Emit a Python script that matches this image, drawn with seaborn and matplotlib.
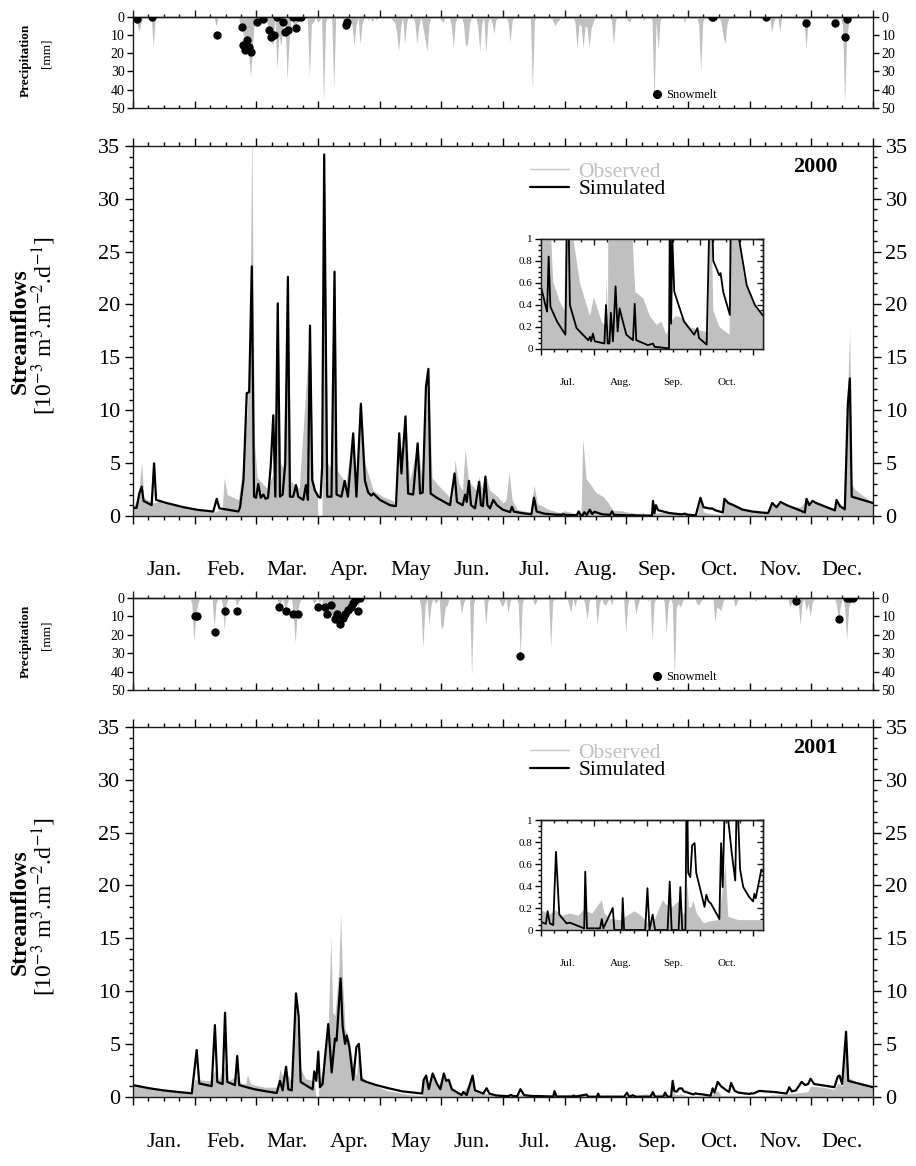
import numpy as np
import matplotlib
matplotlib.use("Agg")
import matplotlib.pyplot as plt
import seaborn as sns
from matplotlib.ticker import FixedLocator, NullFormatter, FuncFormatter, MultipleLocator
from matplotlib.lines import Line2D
import matplotlib.transforms as mtransforms

sns.set_theme(style="ticks")
plt.rcParams["font.family"] = ["Liberation Serif", "DejaVu Serif"]
plt.rcParams["mathtext.fontset"] = "stix"
for key in ["text.color", "axes.labelcolor", "xtick.color", "ytick.color", "axes.edgecolor"]:
    plt.rcParams[key] = "black"

# ---------------- data ----------------
MONTHS = ["Jan.", "Feb.", "Mar.", "Apr.", "May", "Jun.", "Jul.", "Aug.", "Sep.", "Oct.", "Nov.", "Dec."]
INSET_MONTHS = ["Jul.", "Aug.", "Sep.", "Oct."]
YEARS = ["2000", "2001"]
SERIES_NAMES = ["Observed", "Simulated"]

SIM2000_DAY = [0, 1.8, 3.1, 4.3, 5.2, 9.2, 10.4, 11.4, 16.6, 25, 32, 39.6, 41.3, 42.6, 52, 52.8, 54.5, 56.1, 57.3, 58.6,
               59.7, 60.7, 61.8, 63, 64.3, 65.4, 66.6, 67.9, 69.2, 70.2, 71.4, 72.5, 73.8, 75.1, 76.4, 77.4, 79, 80.4,
               81.5, 84, 85.3, 86.3, 87.3, 88.4, 89.7, 91.4, 92.5, 93.3, 94.3, 95.8, 97.9, 99.4, 100.4, 102.8, 104.4,
               106, 108.6, 110.2, 112.4, 114.4, 116, 117.5, 118.5, 121.8, 126.7, 129.7, 131.3, 132.4, 134.4, 135.7,
               138.2, 140.4, 141.6, 142.9, 144.5, 145.7, 146.8, 149.8, 156.4, 158.6, 159.8, 162.6, 163.8, 164.6, 165.7,
               166.7, 168.7, 170.7, 171.6, 172.6, 173.8, 174.8, 176.1, 177.7, 179.5, 182.3, 185, 186, 186.9, 187.9,
               191.7, 196.5, 197.8, 199.1, 202.9, 209.6, 210.6, 211.3, 212.3, 213.4, 218.9, 219.8, 220.8, 221.8, 222.6,
               223.8, 225.3, 226.5, 227.6, 229, 231.5, 235.3, 236.3, 237.2, 243.9, 246.8, 247.7, 253.6, 256, 256.5,
               257.2, 257.9, 259, 264.6, 270.4, 272.3, 273.2, 277.6, 279.9, 281.4, 283.3, 284.8, 285.6, 287.1, 290.9,
               291.7, 293.6, 296.2, 300.6, 305.3, 309.6, 313.3, 315.3, 317.4, 319.4, 322.4, 329, 331.4, 332.2, 333.5,
               335.2, 337, 346.2, 347, 348.7, 351.1, 352.6, 353.6, 354.5, 365]
SIM2000_Q = [0.75, 0.75, 2.1, 2.75, 1.4, 1.0, 4.96, 1.5, 1.2, 0.8, 0.55, 0.4, 1.6, 0.7, 0.4, 0.8, 3.4, 11.6, 11.7, 23.6,
             1.8, 1.7, 3.0, 1.7, 2.0, 1.6, 1.7, 4.6, 9.5, 1.8, 20.1, 1.8, 2.0, 5.0, 22.6, 1.8, 1.8, 2.9,
             1.8, 1.5, 2.9, 1.5, 18.0, 3.4, 2.4, 1.8, 1.7, 4.6, 34.2, 1.8, 1.8, 23.1, 2.0, 1.8, 3.3,
             1.8, 7.8, 1.8, 10.6, 3.3, 2.2, 1.9, 2.1, 1.5, 1.0, 0.9, 7.8, 4.0, 9.4, 2.1,
             2.0, 6.85, 2.1, 2.2, 12.2, 13.9, 2.1, 1.7, 1.0, 4.0, 1.3, 1.0, 2.0, 1.3, 3.3,
             1.0, 0.7, 3.2, 1.0, 0.9, 3.7, 1.0, 0.7, 1.5, 1.0, 0.58, 0.4, 0.34, 0.84, 0.385,
             0.25, 0.13, 1.7, 0.4, 0.19, 0.08, 0.11, 0.07, 0.14, 0.07, 0.05, 0.4, 0.05, 0.05, 0.33,
             0.07, 0.57, 0.16, 0.37, 0.28, 0.13, 0.08, 0.41, 0.08, 0.035, 0.05, 0.02, 0.01, 0.006, 1.4,
             0.23, 1.0, 0.52, 0.25, 0.13, 0.19, 0.1, 0.04, 1.7, 0.8, 0.73, 0.67, 0.69, 0.52, 0.31,
             1.6, 1.2, 1.0, 0.58, 0.4, 0.31, 0.25, 1.2, 0.8, 1.3, 1.0, 0.5, 0.3, 1.6, 1.0,
             1.4, 1.2, 0.5, 1.5, 0.9, 0.6, 10.6, 13.0, 1.8, 1.2]

OBS2000_DAY = [0, 2.5, 4.3, 5.3, 10, 13, 17, 25, 33, 40, 44, 45, 46.5, 52, 54.5, 56.5, 57.8, 58.6, 59.3, 60, 61.3, 66,
               69, 70.2, 71.4, 72.8, 74, 76.4, 77.8, 82, 87.3, 88.8, 90.9, 91.2, 93.2, 93.5, 94.3, 96, 97.5, 99.4,
               100.8, 105, 108.6, 110.2, 112.4, 114.4, 118.5, 123.4, 128.4, 130, 131.3, 133, 134.4, 136.5, 140.4,
               142.5, 145.7, 147.5, 150, 155, 157.5, 158.8, 160.5, 162.5, 163.8, 165.5, 169.5, 170.7, 172, 173.8, 176,
               180, 182.5, 184, 185.5, 187, 189.5, 193.3, 196, 197.8, 199.5, 201.1, 204.9, 208.7, 210.6, 212.9, 217.3,
               219.6, 220.2, 221, 221.8, 223.5, 225.8, 228.3, 232, 234.5, 236.6, 241.2, 245, 248.8, 251.6, 254.5,
               255.5, 257, 260, 264.2, 268, 273.8, 278.5, 279.9, 281.4, 285, 289, 290.7, 291.7, 293, 295, 298.6, 300.6,
               305.3, 309.6, 313, 315.3, 319.4, 322.4, 329, 332, 335, 346, 347, 351, 352.5, 353.5, 354.5, 356, 365]
OBS2000_Q = [0.8, 1.7, 5.1, 1.7, 1.2, 1.4, 1.2, 0.8, 0.6, 0.35, 0.6, 3.6, 2.0, 1.5, 5.0, 10.3, 20, 37, 20, 6.6, 3.6, 2.6,
             3.9, 9.0, 20.1, 5.0, 4.5, 22.6, 3.3, 2.6, 18.0, 3.3, 1.8, 0, 0, 5.0, 34.2, 5.0, 4.5, 23.1,
             4.3, 3.1, 7.8, 3.1, 10.6, 5.0, 2.4, 1.8, 1.4, 0.7, 7.8, 5.0, 9.4, 3.3, 6.85,
             3.6, 13.9, 3.6, 3.0, 2.0, 1.5, 5.3, 3.1, 2.4, 6.3, 3.3, 2.4, 3.7, 2.6, 4.0, 2.4,
             1.8, 1.2, 1.5, 4.2, 1.5, 0.61, 0.43, 0.35, 2.9, 1.1, 1.0, 0.6, 0.4, 0.3, 0.47, 0.25,
             0.2, 0.65, 0.2, 7.3, 3.5, 2.9, 2.2, 1.8, 1.2, 0.52, 0.46, 0.3, 0.22, 0.25, 0.13,
             0.17, 0.25, 0.3, 0.28, 0.2, 0.17, 0.15, 1.7, 0.35, 0.2, 0.15, 0.13, 1.5, 1.5, 1.2, 0.7, 0.58,
             0.4, 0.3, 0.3, 1.0, 1.2, 1.0, 0.8, 1.4, 1.3, 0.7, 1.4, 0.8, 12, 17.6, 3.0, 2.5, 1.2]

P2000_DAY = [1, 2, 3, 4, 10, 41, 53, 54, 55, 56, 57, 58, 59, 61, 63, 66, 67, 68, 69, 71, 72, 73, 74, 76, 77, 79, 80, 81,
             83, 87, 88, 89, 91, 92, 94, 95, 99, 104, 105, 106, 108, 109, 110, 112, 113, 116, 118, 120, 128, 129, 130,
             131, 132, 134, 135, 139, 140, 141, 143, 144, 145, 146, 152, 153, 157, 158, 159, 163, 164, 165, 166, 170,
             171, 172, 174, 175, 177, 178, 179, 185, 186, 187, 190, 192, 197, 198, 207, 208, 209, 210, 215, 218, 219,
             220, 221, 222, 223, 224, 225, 226, 227, 236, 237, 238, 244, 245, 250, 252, 256, 257, 258, 259, 260, 270,
             272, 279, 280, 281, 290, 291, 292, 293, 315, 316, 319, 331, 332, 333, 346, 347, 350, 351, 352, 353]
P2000_MM = [2, 4, 8, 3, 17, 5, 5, 8, 12, 18, 20, 33, 15, 3, 2, 3, 6, 14, 15, 29, 10, 16, 5, 35, 12, 4, 6, 3,
            2, 33, 4, 3, 3, 2, 47, 3, 39, 3, 5, 4, 4, 16, 5, 15, 4, 2, 3, 2, 2, 3, 8,
            19, 6, 15, 3, 3, 15, 5, 6, 12, 19, 4, 2, 3, 5, 17, 3, 4, 16, 15, 4, 5,
            19, 4, 20, 3, 3, 9, 2, 3, 14, 2, 1, 1, 40, 2, 2, 5, 3, 2, 1, 3, 17,
            4, 5, 17, 5, 6, 17, 6, 3, 2, 15, 2, 2, 3, 1, 2, 2, 46, 2, 18, 2, 1,
            3, 4, 30, 3, 3, 10, 15, 4, 8, 3, 8, 3, 17, 2, 7, 3, 5, 47, 12, 3]

SNOW2000_DAY = [2.1, 9.2, 41.3, 53.6, 54.4, 55.2, 55.8, 56.4, 57.3, 58.3, 61.2, 64.1, 67.2, 68.3, 69.5, 71, 74.2, 75.2,
                76.4, 79, 80.3, 81.5, 82.8, 105.3, 105.6, 285.4, 286.2, 312.2, 331.8, 346.4, 351.4, 352.2]
SNOW2000_MM = [1.3, 0.4, 10, 5.5, 15.5, 18.2, 15.5, 12.8, 16.4, 19.1, 2.7, 1.5, 7.3, 11.3, 10, 0.2, 2.7, 8.2,
               7.3, 0.4, 6, 0.4, 0, 4.6, 2.7, 0, 0, 0, 3.6, 3.6, 11.3, 1.3]

SIM2001_DAY = [0, 8, 15, 22, 29, 31.4, 32.7, 38.8, 40.4, 41.6, 44.2, 45.4, 46.5, 50.3, 51.4, 52.4, 56, 60, 66, 70.9,
               72.5, 73.8, 75.5, 76.6, 78.3, 80.4, 81.7, 82.7, 86, 88.6, 89.4, 90.4, 91.4, 92.2, 93.5, 94.7, 96.3, 98,
               99.6, 100.4, 102.4, 103.4, 104.6, 105.4, 106.7, 108.6, 110.2, 111.4, 112.7, 115.2, 120, 126, 133, 142.6,
               143.4, 144.6, 145.9, 147.8, 150, 151.6, 153.3, 154.5, 155.7, 157.3, 162.1, 162.9, 164.6, 167.5, 168.7,
               172.8, 174.4, 175.8, 179, 182.3, 185.3, 186.3, 187.6, 189.5, 191.1, 193, 197.2, 199, 207.3, 207.9, 208.9,
               216.4, 217.4, 218.3, 223.7, 224.6, 228.9, 229.4, 230.2, 242.3, 243.6, 244.8, 246.6, 248, 255.2, 256.4,
               257.5, 261.5, 262.5, 263.6, 265.4, 266.2, 267, 268.2, 269.3, 270.7, 271.6, 276.4, 277.4, 278.7, 280.1,
               284.9, 285.9, 286.8, 288.4, 290, 292, 294, 295, 296.8, 298.6, 302, 304.3, 305, 305.8, 309, 312, 316,
               322.4, 323.7, 325, 327, 329.8, 331.5, 333, 334.2, 336, 346, 347.6, 348.5, 349.8, 351.7, 352.8, 365]
SIM2001_Q = [1.1, 0.8, 0.6, 0.45, 0.32, 4.42, 1.25, 1.0, 6.78, 1.4, 1.2, 7.95, 1.4, 1.1, 3.85, 1.1, 0.9, 0.7, 0.5, 0.35,
             1.5, 0.6, 2.84, 0.7, 0.6, 9.78, 7.6, 1.4, 1.0, 0.7, 2.4, 1.5, 4.26, 0.9, 1.2, 3.7, 6.88, 2.3,
             5.5, 5.3, 11.2, 6.7, 5.0, 5.8, 4.7, 1.6, 4.7, 5.0, 1.6, 1.4, 1.1, 0.8, 0.5, 0.3,
             1.6, 2.0, 0.7, 2.2, 1.2, 0.7, 2.2, 1.5, 1.6, 0.7, 0.16, 0.45, 0.16, 2.0, 0.6,
             0.3, 0.8, 0.3, 0.12, 0.076, 0.055, 0.17, 0.06, 0.045, 0.71, 0.14, 0.06, 0.067, 0.015, 0.53, 0.015,
             0.015, 0.1, 0.015, 0.2, 0.0, 0.0, 0.29, 0.0, 0.0, 0.38, 0.0, 0.14, 0.0, 0.0, 0.44,
             0.0, 0.0, 0.39, 0.0, 0.0, 1.5, 0.52, 0.48, 0.77, 0.79, 0.52, 0.21, 0.32, 0.26, 0.24,
             0.1, 0.79, 0.39, 1.4, 1.0, 0.7, 0.45, 1.3, 0.55, 0.39, 0.3, 0.26, 0.33, 0.29, 0.55, 0.5, 0.45,
             0.3, 0.9, 0.5, 0.6, 1.4, 1.1, 1.2, 1.7, 1.2, 0.9, 1.9, 2.0, 1.2, 6.15, 1.5, 0.9]

OBS2001_DAY = [0, 15, 29, 30.5, 33, 38, 40.4, 42, 45.4, 47, 51.4, 53, 55.5, 56.5, 58, 65, 70.9, 72.5, 73.8, 75.5, 78,
               80.4, 82, 85, 89.5, 90.2, 91.4, 91.8, 93.5, 95, 96.3, 97.6, 98.5, 99.6, 101.5, 102.4, 103.4, 104.6,
               105.4, 106.7, 108.6, 110.2, 111.4, 112.7, 115.2, 125, 135, 142.6, 143.4, 144.6, 145.9, 147.8, 150,
               153.3, 155.7, 158, 162, 167.5, 169, 175, 180, 182.5, 187.6, 191, 194.5, 199, 204, 207, 212, 217.4,
               219, 222, 228, 232, 236.3, 240, 244, 248, 252.4, 254.3, 258, 262.1, 264, 265.5, 266.6, 267.5, 269,
               270, 271.9, 276, 280, 284, 286, 288.4, 290, 296, 302, 310, 320, 329.8, 333, 334.2, 340, 346, 347.6,
               350, 351.7, 352.8, 358, 365]
OBS2001_Q = [1.1, 0.7, 0.45, 1.6, 1.6, 1.5, 2.5, 1.5, 3.0, 1.5, 2.0, 1.3, 1.2, 2.1, 1.2, 0.9, 0.9, 2.6, 2.0, 2.5, 1.4,
             8.5, 3.0, 1.7, 1.5, 0, 0, 1.5, 2.5, 4.0, 6.8, 15.3, 8.0, 7.7, 12.0, 17.3, 11.0, 6.4,
             6.0, 5.4, 3.0, 2.0, 4.7, 2.0, 1.4, 0.6, 0.25, 0.1, 1.9, 1.5, 0.5, 2.0, 0.9,
             2.0, 1.4, 0.5, 0.2, 1.8, 0.4, 0.3, 0.2, 0.18, 0.14, 0.18, 0.13, 0.15, 0.13, 0.18, 0.15, 0.27,
             0.15, 0.1, 0.09, 0.13, 0.17, 0.13, 0.06, 0.1, 0.27, 0.23, 0.21, 0.27, 0.15, 0.15, 0.42, 0.2, 0.21,
             0.27, 0.15, 0.06, 0.08, 0.09, 0.27, 0.6, 0.12, 0.09, 0.09, 0.09, 0.2, 0.4, 0.5, 1.0, 0.9, 0.7, 1.3,
             1.0, 5.5, 1.8, 1.3, 0.9]

P2001_DAY = [29, 30, 31, 32, 40, 41, 44, 45, 46, 51, 52, 72, 73, 75, 76, 79, 80, 81, 82, 89, 90, 92, 94, 95, 96, 97, 98,
             99, 100, 101, 102, 103, 104, 105, 106, 107, 108, 109, 111, 112, 142, 143, 144, 146, 147, 149, 150, 152,
             153, 154, 155, 162, 163, 167, 168, 174, 175, 181, 182, 183, 185, 186, 190, 191, 192, 198, 199, 206, 207,
             215, 216, 218, 223, 224, 225, 229, 230, 232, 233, 234, 236, 243, 244, 248, 249, 252, 254, 256, 257, 262,
             263, 264, 266, 267, 268, 269, 270, 271, 278, 279, 280, 287, 288, 289, 290, 291, 297, 298, 305, 307, 309,
             324, 325, 329, 330, 332, 333, 334, 335, 347, 348, 349, 351, 352, 353, 354]
P2001_MM = [3, 24, 10, 3, 16, 3, 3, 17, 3, 4, 2, 4, 2, 7, 3, 8, 24, 9, 3, 3, 2, 3, 12, 8, 10, 6, 12,
            14, 10, 12, 15, 9, 8, 6, 5, 8, 4, 2, 5, 2, 5, 27, 5, 14, 4, 3, 2, 17,
            15, 5, 4, 9, 3, 42, 3, 15, 2, 2, 5, 3, 8, 2, 3, 31, 3, 4, 2, 27, 2,
            4, 8, 5, 4, 12, 2, 15, 3, 3, 4, 2, 4, 19, 3, 9, 4, 1, 2, 23, 3, 2,
            19, 3, 3, 43, 5, 3, 5, 2, 3, 4, 2, 13, 5, 6, 7, 2, 5, 2, 1, 2, 1,
            5, 2, 15, 3, 7, 3, 10, 3, 4, 12, 4, 5, 23, 5, 2]

SNOW2001_DAY = [30.6, 31.7, 40.4, 45.4, 51.4, 72.2, 75.5, 79.1, 81.5, 91.4, 94.7, 95.8, 97.9, 99.6, 100.5, 102.1, 103.7,
                104.5, 106.2, 107.5, 108.7, 109.5, 111.2, 112, 190.9, 326.9, 348, 352.1, 353.7, 354.9]
SNOW2001_MM = [9.9, 9.9, 18.4, 7.2, 7.2, 5.2, 7.2, 8.8, 8.8, 5.2, 5.2, 8.8, 3.7, 11.7, 8.8, 14.2, 11.1,
               8.6, 6.7, 5.2, 3.1, 1.2, 7.0, 0.3, 31.6, 1.6, 11.7, 0.3, 0.3, 0.3]

# ---------------- layout ----------------
W, H = 916, 1166
ML = 365 / 12.0
MONTH_EDGES = [i * ML for i in range(13)]
MONTH_MINOR = [i * ML / 4 for i in range(49)]
GRAY = "#c0c0c0"

fig = plt.figure(figsize=(W / 100, H / 100), dpi=100)


def frac(left, top, right, bottom):
    return [left / W, 1 - bottom / H, (right - left) / W, (bottom - top) / H]


def sec_x(ax, where, direction, major, minor, lmaj, lmin):
    sec = ax.secondary_xaxis(where)
    sec.xaxis.set_major_locator(FixedLocator(major))
    sec.xaxis.set_minor_locator(FixedLocator(minor))
    sec.xaxis.set_major_formatter(NullFormatter())
    sec.tick_params(axis="x", which="major", direction=direction, length=lmaj, width=1, color="k")
    sec.tick_params(axis="x", which="minor", direction=direction, length=lmin, width=1, color="k")
    for s in sec.spines.values():
        s.set_linewidth(1.0)
        s.set_color("k")
    return sec


def draw_precip(top, bottom, pday, pmm, sday, smm):
    ax = fig.add_axes(frac(133, top, 873, bottom))
    daily = np.zeros(366)
    daily[np.array(pday)] = pmm
    ax.fill_between(np.arange(366), 0, daily, color=GRAY, lw=0)
    sns.scatterplot(x=sday, y=smm, ax=ax, color="black", s=36, edgecolor="black", linewidth=0, zorder=5,
                    legend=False)
    ax.set_xlim(0, 365)
    ax.set_ylim(50, 0)
    ax.set_yticks([0, 10, 20, 30, 40, 50])
    ax.xaxis.set_major_locator(FixedLocator(MONTH_EDGES))
    ax.xaxis.set_minor_locator(FixedLocator(MONTH_MINOR))
    ax.xaxis.set_major_formatter(NullFormatter())
    ax.tick_params(axis="x", which="major", direction="in", length=5, width=1, top=False, bottom=True)
    ax.tick_params(axis="x", which="minor", direction="in", length=2.5, width=1, top=False, bottom=True)
    sec_x(ax, "top", "out", MONTH_EDGES, MONTH_MINOR, 5, 2.5)
    ax.tick_params(axis="y", which="major", direction="out", length=4, width=1, left=True, right=True,
                   labelleft=True, labelright=True, labelsize=10, pad=2)
    for s in ax.spines.values():
        s.set_linewidth(1.0)
        s.set_color("k")
    ax.set_xlabel("")
    ax.set_ylabel("")
    ax.legend(handles=[Line2D([], [], marker="o", ls="", color="black", markersize=5.5)], labels=["Snowmelt"],
              loc="center left", bbox_to_anchor=(0.699, 0.142), frameon=False, fontsize=9,
              handletextpad=0.25, handlelength=1.0, borderpad=0, borderaxespad=0)
    yc = (top + bottom) / 2
    fig.text(26 / W, 1 - (yc - 2) / H, "Precipitation", rotation=90, fontsize=9.5, fontweight="bold",
             ha="center", va="center")
    fig.text(46 / W, 1 - (yc - 9) / H, "[mm]", rotation=90, fontsize=9.5, ha="center", va="center")
    return ax


def draw_flow(top, bottom, oday, oq, sday, sq, year, mlab_off):
    ax = fig.add_axes(frac(133, top, 873, bottom))
    ax.fill_between(oday, 0, oq, color=GRAY, lw=0)
    sns.lineplot(x=sday, y=sq, ax=ax, color="black", lw=1.6, estimator=None, sort=False, legend=False)
    ax.set_xlim(0, 365)
    ax.set_ylim(0, 35)
    ax.yaxis.set_major_locator(MultipleLocator(5))
    ax.yaxis.set_minor_locator(MultipleLocator(1))
    ax.xaxis.set_major_locator(FixedLocator(MONTH_EDGES))
    ax.xaxis.set_minor_locator(FixedLocator(MONTH_MINOR))
    ax.xaxis.set_major_formatter(NullFormatter())
    ax.tick_params(which="major", direction="out", length=6, width=1, top=True, right=True,
                   labelright=True, labelsize=16, pad=3)
    ax.tick_params(which="minor", direction="out", length=3, width=1, top=True, right=True)
    for s in ax.spines.values():
        s.set_linewidth(1.0)
        s.set_color("k")
    ax.set_xlabel("")
    ax.set_ylabel("")
    trans = mtransforms.blended_transform_factory(ax.transData, ax.transAxes)
    h = bottom - top
    for i, m in enumerate(MONTHS):
        ax.text((i + 0.5) * ML, -mlab_off / h, m, transform=trans, ha="center", va="center", fontsize=16)
    handles = [Line2D([], [], color="#c8c8c8", lw=1.0), Line2D([], [], color="black", lw=1.6)]
    leg = ax.legend(handles, SERIES_NAMES, loc="upper left", bbox_to_anchor=(0.5365, 0.958), frameon=False,
                    fontsize=15.5, handlelength=1.8, handletextpad=0.45, labelspacing=-0.12, borderpad=0,
                    borderaxespad=0)
    leg.get_texts()[0].set_color("#c0c0c0")
    ax.text(0.9216, 1 - 21 / h, year, transform=ax.transAxes, ha="center", va="center", fontsize=16,
            fontweight="bold")
    yc = (top + bottom) / 2
    fig.text(20 / W, 1 - yc / H, "Streamflows", rotation=90, fontsize=17, fontweight="bold",
             ha="center", va="center")
    fig.text(44 / W, 1 - (yc - 5) / H, r"[10$^{-3}$ m$^{3}$.m$^{-2}$.d$^{-1}$]", rotation=90, fontsize=17,
             ha="center", va="center")
    return ax


def draw_inset(top, bottom, oday, oq, sday, sq):
    ax = fig.add_axes(frac(541, top, 763, bottom))
    ax.set_zorder(10)
    ax.set_facecolor("white")
    ax.fill_between(oday, 0, oq, color=GRAY, lw=0)
    sns.lineplot(x=sday, y=sq, ax=ax, color="black", lw=1.3, estimator=None, sort=False, legend=False)
    x0 = 6 * ML
    ax.set_xlim(x0, x0 + 4.19 * ML)
    ax.set_ylim(0, 1)
    edges = [x0 + i * ML for i in range(5)]
    minors = [x0 + i * ML / 4 for i in range(18)]
    ax.xaxis.set_major_locator(FixedLocator(edges))
    ax.xaxis.set_minor_locator(FixedLocator(minors))
    ax.xaxis.set_major_formatter(NullFormatter())
    ax.yaxis.set_major_locator(MultipleLocator(0.2))
    ax.yaxis.set_minor_locator(MultipleLocator(0.05))
    ax.yaxis.set_major_formatter(FuncFormatter(lambda v, p: f"{v:g}"))
    ax.tick_params(which="major", direction="out", length=4, width=1, top=False, right=False, labelsize=8, pad=2)
    ax.tick_params(which="minor", direction="out", length=2, width=1, top=False, right=False)
    sec_x(ax, "top", "in", edges, minors, 4, 2)
    sr = ax.secondary_yaxis("right")
    sr.yaxis.set_major_locator(MultipleLocator(0.2))
    sr.yaxis.set_minor_locator(MultipleLocator(0.05))
    sr.yaxis.set_major_formatter(NullFormatter())
    sr.tick_params(axis="y", which="major", direction="in", length=4, width=1, color="k")
    sr.tick_params(axis="y", which="minor", direction="in", length=2, width=1, color="k")
    for s in list(ax.spines.values()) + list(sr.spines.values()):
        s.set_linewidth(1.0)
        s.set_color("k")
    ax.set_xlabel("")
    ax.set_ylabel("")
    trans = mtransforms.blended_transform_factory(ax.transData, ax.transAxes)
    for i, m in enumerate(INSET_MONTHS):
        ax.text(x0 + (i + 0.5) * ML, -34 / (bottom - top), m, transform=trans, ha="center", va="center",
                fontsize=8)
    return ax


draw_precip(16.7, 108, P2000_DAY, P2000_MM, SNOW2000_DAY, SNOW2000_MM)
draw_flow(146, 515.7, OBS2000_DAY, OBS2000_Q, SIM2000_DAY, SIM2000_Q, YEARS[0], 55)
draw_inset(239, 349, OBS2000_DAY, OBS2000_Q, SIM2000_DAY, SIM2000_Q)

draw_precip(597.7, 690, P2001_DAY, P2001_MM, SNOW2001_DAY, SNOW2001_MM)
draw_flow(727, 1096.7, OBS2001_DAY, OBS2001_Q, SIM2001_DAY, SIM2001_Q, YEARS[1], 46)
draw_inset(820, 930, OBS2001_DAY, OBS2001_Q, SIM2001_DAY, SIM2001_Q)

fig.savefig("out.png", dpi=100)
